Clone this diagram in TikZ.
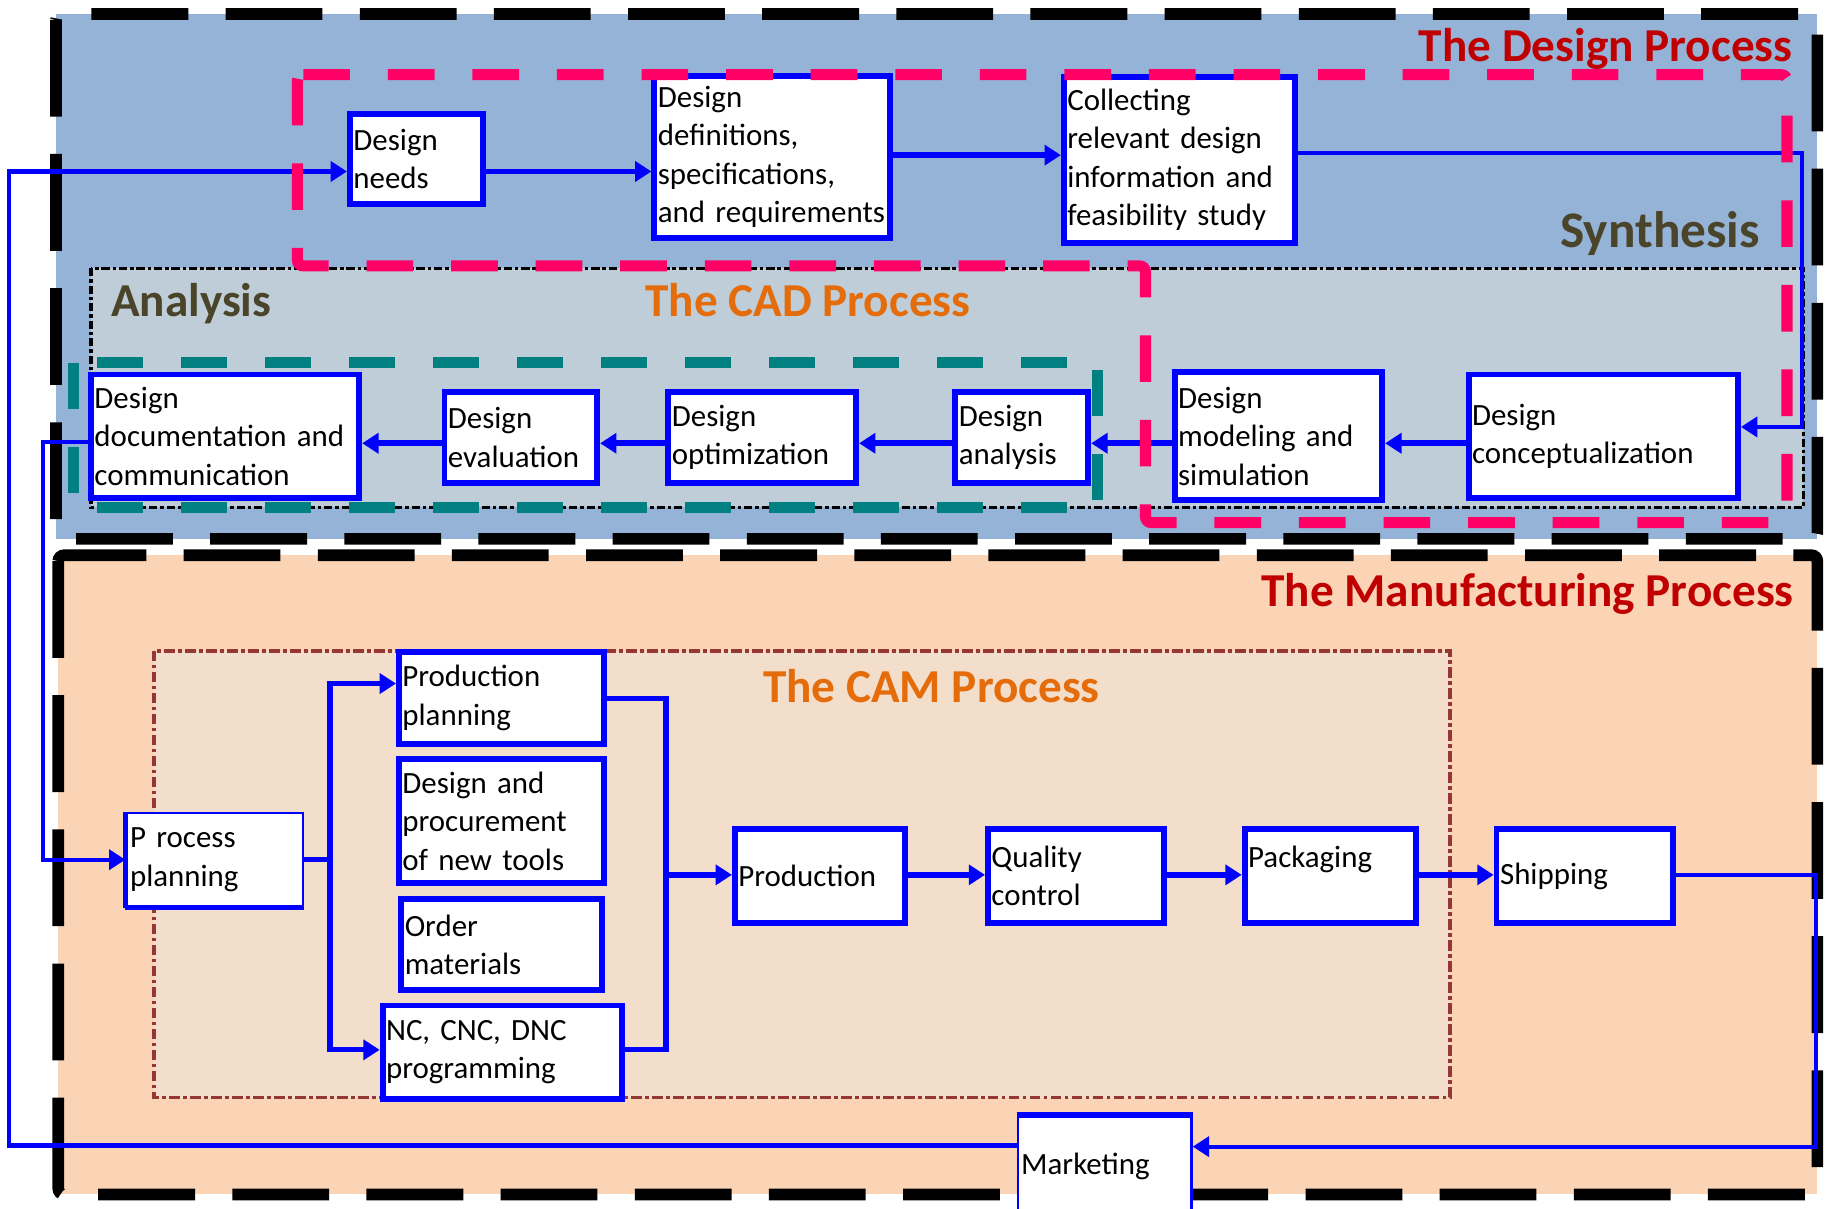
\documentclass[tikz,border=0pt]{standalone}
\usepackage{fontspec}
\setmainfont{Carlito}
\usetikzlibrary{arrows.meta}

\definecolor{designfill}{HTML}{95B3D7}
\definecolor{analysisfill}{HTML}{BFCDD8}
\definecolor{mfgfill}{HTML}{FAD4B4}
\definecolor{camfill}{HTML}{F2DECA}
\definecolor{flowblue}{HTML}{0000FF}
\definecolor{synthpink}{HTML}{FF0066}
\definecolor{cadteal}{HTML}{008080}
\definecolor{cambrown}{HTML}{953735}
\definecolor{titlered}{HTML}{C00000}
\definecolor{titleorange}{HTML}{E46C0A}
\definecolor{titleolive}{HTML}{4A452A}

% box text: tight word spacing
\newcommand{\boxtextfont}{\fontsize{26.5}{33}\selectfont\spaceskip=3.5pt plus 1pt minus 0.5pt\relax}

\begin{document}
\hyphenpenalty=10000
\exhyphenpenalty=10000
\begin{tikzpicture}[x=1pt,y=-1pt,
  box/.style={draw=flowblue, line width=5pt, fill=white, align=left,
    inner xsep=3pt, inner ysep=0pt, font=\boxtextfont},
  thinbox/.style={box, line width=2pt},
  flow/.style={draw=flowblue, line width=5pt, -{Triangle[length=14pt,width=17pt]}},
  longflow/.style={flow, line width=3.5pt},
  plainflow/.style={draw=flowblue, line width=4.5pt},
  bigframe/.style={draw=black, line width=10pt, dash pattern=on 83pt off 32pt, rounded corners=5pt},
  pinkframe/.style={draw=synthpink, line width=9.5pt, dash pattern=on 40pt off 32.5pt, rounded corners=5pt},
  tealframe/.style={draw=cadteal, line width=9.5pt, dash pattern=on 40pt off 32pt},
  dashdotframe/.style={line width=3pt, dash pattern=on 7pt off 2.5pt on 3pt off 2.5pt},
  camframe/.style={draw=cambrown, line width=3pt, dash pattern=on 9pt off 3pt on 3pt off 3pt},
  title/.style={font=\bfseries\fontsize{40.5}{48}\selectfont, inner sep=0pt}
]
\useasboundingbox (0,0) rectangle (1568,1036);

% background areas of the two processes
\fill[designfill] (48,12) rectangle (1558,462);
\fill[mfgfill] (50,476) rectangle (1558,1024);

% analysis band and CAM region
\filldraw[fill=analysisfill, draw=black, dashdotframe] (78,230) rectangle (1546,435);
\filldraw[fill=camfill, camframe] (132,558) rectangle (1243,941);

% outer dashed frames
\draw[bigframe] (48,12) rectangle (1558,462);
\draw[bigframe] (50,476) rectangle (1558,1024);

% process boxes
\node[box, text width=108pt, minimum height=77pt] (dneeds) at (357,136.5) {Design\\needs};
\node[box, text width=196pt, minimum height=139pt] (ddef) at (662,134.5)
  {Design\\definitions,\\specifications,\\\mbox{and requirements}};
\node[box, text width=192pt, minimum height=142pt] (collect) at (1011,137)
  {Collecting\\\mbox{relevant design}\\\mbox{information and}\\\mbox{feasibility study}};
\node[box, text width=225pt, minimum height=106pt] (dconc) at (1374.5,374) {Design\\conceptualization};
\node[box, text width=172pt, minimum height=110pt] (dmodel) at (1096,374) {Design\\\mbox{modeling and}\\simulation};
\node[box, text width=108pt, minimum height=78pt] (danal) at (876,375) {Design\\analysis};
\node[box, text width=155pt, minimum height=78pt] (dopt) at (653.5,375) {Design\\optimization};
\node[box, text width=125pt, minimum height=78pt] (deval) at (446.5,375) {Design\\evaluation};
\node[box, text width=224pt, minimum height=106pt] (ddoc) at (193,374) {Design\\\mbox{documentation and}\\communication};

\node[thinbox, text width=145pt, minimum height=80pt] (pplan) at (184,737) {P rocess\\planning};
\node[box, text width=170pt, minimum height=79pt] (prodplan) at (430,598.5) {Production\\planning};
\node[box, text width=170pt, minimum height=106pt] (dproc) at (430,704) {\mbox{Design and}\\procurement\\\mbox{of new tools}};
\node[box, text width=166pt, minimum height=78pt] (order) at (430,810) {Order\\materials};
\node[box, text width=199pt, minimum height=80pt] (nc) at (430.5,902) {\mbox{NC, CNC, DNC}\\programming};
\node[box, text width=140pt, minimum height=80pt] (prod) at (703,751) {Production};
\node[box, text width=145pt, minimum height=80pt] (qc) at (922.5,751) {Quality\\control};
\node[box, text width=141pt, minimum height=80pt] (pack) at (1140.5,751) {Packaging\\\mbox{}};
\node[box, text width=145pt, minimum height=80pt] (ship) at (1358.5,751) {Shipping};
\node[thinbox, text width=143pt, minimum height=86pt] (mkt) at (947,1000) {Marketing};

% heavier edges on the two thin boxes
\draw[flowblue, line width=5pt] (pplan.south west) -- (pplan.south east);
\draw[flowblue, line width=4pt] (pplan.south west) -- (pplan.north west);
\draw[flowblue, line width=5pt] (mkt.north west) -- (mkt.north east);

% connectors of the design chain
\draw[longflow] (mkt.west |- 0,982) -| (8,147) -- (dneeds.west |- 0,147);
\draw[flow] (dneeds.east |- 0,147) -- (ddef.west |- 0,147);
\draw[flow] (ddef.east |- 0,133) -- (collect.west |- 0,133);
\draw[longflow] (collect.east |- 0,131) -| (1545,366) -- (dconc.east |- 0,366);
\draw[flow] (dconc.west |- 0,380) -- (dmodel.east |- 0,380);
\draw[flow] (dmodel.west |- 0,380) -- (danal.east |- 0,380);
\draw[flow] (danal.west |- 0,380) -- (dopt.east |- 0,380);
\draw[flow] (dopt.west |- 0,380) -- (deval.east |- 0,380);
\draw[flow] (deval.west |- 0,380) -- (ddoc.east |- 0,380);
\draw[longflow] (ddoc.west |- 0,379) -| (37,737) -- (pplan.west |- 0,737);

% connectors of the manufacturing chain
\draw[plainflow] (pplan.east |- 0,737) -- (283,737);
\draw[flow, line width=4.5pt] (283,737) |- (prodplan.west |- 0,586);
\draw[flow, line width=4.5pt] (283,737) |- (nc.west |- 0,900);
\draw[plainflow] (prodplan.east |- 0,599) -| (571,900) -- (nc.east |- 0,900);
\draw[flow] (571,750) -- (prod.west |- 0,750);
\draw[flow] (prod.east |- 0,750) -- (qc.west |- 0,750);
\draw[flow] (qc.east |- 0,750) -- (pack.west |- 0,750);
\draw[flow] (pack.east |- 0,750) -- (ship.west |- 0,750);
\draw[longflow] (ship.east |- 0,750) -| (1557,983) -- (mkt.east |- 0,983);

% synthesis and CAD frames
\draw[pinkframe] (255,64) -- (1532,64) -- (1532,448) -- (982,448) -- (982,228) -- (255,228) -- cycle;
\draw[tealframe] (63,311) rectangle (941,435);

% titles
\node[title, text=titlered, anchor=base east] (tdesign) at (1537,53) {The Design Process};
\node[title, text=titleolive, anchor=base east, font=\bfseries\fontsize{44}{52}\selectfont] (tsynth) at (1509,212) {Synthesis};
\node[title, text=titleolive, anchor=base west] (tanal) at (95,271.5) {Analysis};
\node[title, text=titleorange, anchor=base west] (tcad) at (553,271.5) {The CAD Process};
\node[title, text=titlered, anchor=base east] (tmfg) at (1538,520) {The Manufacturing Process};
\node[title, text=titleorange, anchor=base west] (tcam) at (654,602) {The CAM Process};
\end{tikzpicture}
\end{document}
